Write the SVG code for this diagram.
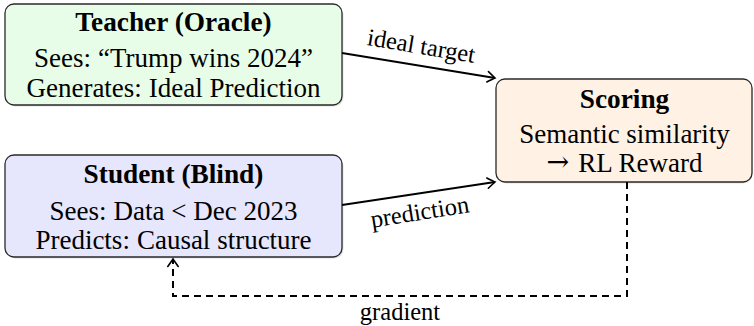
<svg xmlns="http://www.w3.org/2000/svg" width="754" height="326" viewBox="0 0 754 326">
  <style>
    .box { stroke: #2a2a2a; stroke-width: 1.3; }
    .shadow { fill: #000; opacity: 0.12; }
    .title { font-family: "Liberation Serif", "Times New Roman", serif; font-weight: bold; font-size: 27.3px; text-anchor: middle; fill: #000; }
    .body { font-family: "Liberation Serif", "Times New Roman", serif; font-size: 27px; text-anchor: middle; fill: #000; }
    .lbl { font-family: "Liberation Serif", "Times New Roman", serif; font-size: 24.5px; text-anchor: middle; fill: #000; }
    .edge { fill: none; stroke: #000; stroke-width: 1.8; }
    .dash { stroke-dasharray: 7 5; stroke-width: 2; }
  </style>
  <defs>
    <marker id="tip" viewBox="-9 -7 11 14" refX="0" refY="0" markerWidth="11" markerHeight="14" markerUnits="userSpaceOnUse" orient="auto">
      <path d="M -7.5 -5.2 Q -1.8 -1.2 0 0 Q -1.8 1.2 -7.5 5.2" fill="none" stroke="#000" stroke-width="1.6" stroke-linecap="round"/>
    </marker>
  </defs>

  <!-- Teacher node -->
  <g id="teacher">
    <rect class="shadow" x="6.5" y="5.5" width="337" height="101" rx="9"/>
    <rect class="box" x="5" y="4" width="337" height="101" rx="9" fill="#e8fde8"/>
    <text class="title" x="173.5" y="31">Teacher (Oracle)</text>
    <text class="body" x="173.5" y="67">Sees:<tspan dx="7">“Trump wins 2024”</tspan></text>
    <text class="body" x="173.5" y="97">Generates:<tspan dx="7">Ideal Prediction</tspan></text>
  </g>

  <!-- Student node -->
  <g id="student">
    <rect class="shadow" x="6.5" y="156.5" width="337" height="102" rx="9"/>
    <rect class="box" x="5" y="155" width="337" height="102" rx="9" fill="#e6e6fc"/>
    <text class="title" x="173.5" y="183">Student (Blind)</text>
    <text class="body" x="173.5" y="220">Sees:<tspan dx="7">Data &lt; Dec 2023</tspan></text>
    <text class="body" x="173.5" y="249">Predicts:<tspan dx="7">Causal structure</tspan></text>
  </g>

  <!-- Scoring node -->
  <g id="scoring">
    <rect class="shadow" x="497.5" y="80.5" width="255" height="103" rx="9"/>
    <rect class="box" x="496" y="79" width="256" height="103" rx="9" fill="#fff1e4"/>
    <text class="title" x="624.5" y="108">Scoring</text>
    <text class="body" x="624.5" y="143">Semantic similarity</text>
    <text class="body" x="624.5" y="172"><tspan font-family="'DejaVu Serif', serif" font-size="27px" dy="-1">→</tspan><tspan dx="9" dy="1">RL Reward</tspan></text>
  </g>

  <!-- Connectors -->
  <g id="connectors">
    <line class="edge" x1="342" y1="53" x2="495" y2="78" marker-end="url(#tip)"/>
    <line class="edge" x1="342" y1="205" x2="495" y2="182" marker-end="url(#tip)"/>
    <polyline class="edge dash" points="627,182 627,296 173,296 173,259" marker-end="url(#tip)"/>
    <g transform="translate(421,48) rotate(9.5)">
      <text class="lbl" x="0" y="6">ideal target</text>
    </g>
    <g transform="translate(420,214) rotate(-9)">
      <text class="lbl" x="0" y="6">prediction</text>
    </g>
    <text class="lbl" x="400" y="320">gradient</text>
  </g>
</svg>
